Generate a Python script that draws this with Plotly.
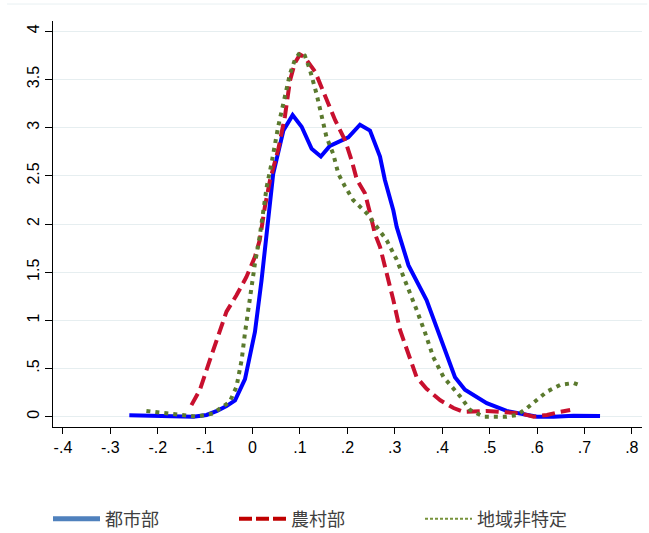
import plotly.graph_objects as go

# 都市部 (urban)
urban_x = [-0.26, -0.20, -0.15, -0.125, -0.097, -0.075, -0.055, -0.037, -0.016, 0.005, 0.019, 0.030,
           0.040, 0.0435, 0.065, 0.0845, 0.1035, 0.1246, 0.144, 0.163, 0.202, 0.2266, 0.2477,
           0.2688, 0.279, 0.297, 0.304, 0.329, 0.367, 0.396, 0.427, 0.448, 0.494, 0.536, 0.579,
           0.600, 0.635, 0.677, 0.733]
urban_y = [0.015, 0.012, 0.0, 0.0, 0.018, 0.06, 0.11, 0.17, 0.39, 0.88, 1.42, 1.94,
           2.40, 2.52, 2.97, 3.13, 3.01, 2.78, 2.70, 2.81, 2.90, 3.03, 2.97,
           2.70, 2.46, 2.14, 1.97, 1.57, 1.21, 0.83, 0.41, 0.28, 0.14, 0.06, 0.018,
           0.0, 0.0, 0.01, 0.007]

# 農村部 (rural)
rural_x = [-0.129, -0.111, -0.090, -0.069, -0.055, -0.034, -0.013, 0.005, 0.015, 0.026, 0.037,
           0.054, 0.068, 0.079, 0.089, 0.100, 0.110, 0.132, 0.153, 0.174, 0.195, 0.209, 0.220,
           0.237, 0.248, 0.258, 0.269, 0.283, 0.297, 0.311, 0.329, 0.346, 0.367, 0.396, 0.424,
           0.445, 0.494, 0.536, 0.565, 0.593, 0.621, 0.649, 0.670]
rural_y = [0.12, 0.28, 0.59, 0.90, 1.09, 1.26, 1.45, 1.66, 1.83, 2.18, 2.46,
           2.77, 3.11, 3.49, 3.67, 3.76, 3.73, 3.58, 3.32, 3.08, 2.87, 2.66, 2.46,
           2.32, 2.11, 1.90, 1.76, 1.49, 1.21, 0.90, 0.66, 0.41, 0.29, 0.17, 0.09,
           0.05, 0.06, 0.05, 0.035, 0.0, 0.018, 0.05, 0.07]

# 地域非特定 (region unspecified)
unspec_x = [-0.224, -0.168, -0.132, -0.118, -0.083, -0.048, -0.034, -0.023, -0.016, -0.009, -0.002,
            0.005, 0.015, 0.022, 0.030, 0.040, 0.054, 0.068, 0.079, 0.089, 0.100, 0.110, 0.121,
            0.135, 0.146, 0.156, 0.170, 0.181, 0.195, 0.212, 0.241, 0.262, 0.283, 0.304, 0.325,
            0.346, 0.364, 0.381, 0.403, 0.417, 0.438, 0.459, 0.487, 0.536, 0.558, 0.579, 0.600,
            0.621, 0.649, 0.677, 0.688]
unspec_y = [0.06, 0.028, 0.0, 0.0, 0.035, 0.156, 0.31, 0.59, 0.87, 1.11, 1.42,
            1.59, 1.87, 2.11, 2.39, 2.63, 3.01, 3.32, 3.56, 3.70, 3.78, 3.75, 3.60,
            3.35, 3.11, 2.90, 2.73, 2.52, 2.39, 2.25, 2.11, 1.97, 1.83, 1.63, 1.38,
            1.11, 0.87, 0.62, 0.41, 0.33, 0.21, 0.07, 0.0, 0.0, 0.018, 0.09, 0.17,
            0.26, 0.33, 0.35, 0.33]

series_names = ["都市部", "農村部", "地域非特定"]
x_ticks = [-0.4, -0.3, -0.2, -0.1, 0, 0.1, 0.2, 0.3, 0.4, 0.5, 0.6, 0.7, 0.8]
x_tick_labels = ["-.4", "-.3", "-.2", "-.1", "0", ".1", ".2", ".3", ".4", ".5", ".6", ".7", ".8"]
y_ticks = [0, 0.5, 1, 1.5, 2, 2.5, 3, 3.5, 4]
y_tick_labels = ["0", ".5", "1", "1.5", "2", "2.5", "3", "3.5", "4"]

fig = go.Figure()
fig.add_trace(go.Scatter(x=urban_x, y=urban_y, mode="lines", showlegend=False,
                         line=dict(color="#0000ff", width=4)))
fig.add_trace(go.Scatter(x=rural_x, y=rural_y, mode="lines", showlegend=False,
                         line=dict(color="#c8102e", width=4, dash="13px,6px")))
fig.add_trace(go.Scatter(x=unspec_x, y=unspec_y, mode="lines", showlegend=False,
                         line=dict(color="#5b7a2e", width=4, dash="4px,5px")))

# legend entries (legend uses its own styling)
fig.add_trace(go.Scatter(x=[None], y=[None], mode="lines", name=series_names[0],
                         line=dict(color="#4f81bd", width=5)))
fig.add_trace(go.Scatter(x=[None], y=[None], mode="lines", name=series_names[1],
                         line=dict(color="#c00000", width=4, dash="13px,4px")))
fig.add_trace(go.Scatter(x=[None], y=[None], mode="lines", name=series_names[2],
                         line=dict(color="#77933c", width=2, dash="3px,2px")))

PLOT_H = 406
fig.update_layout(
    width=649, height=533,
    margin=dict(l=53, r=7, t=21, b=106, autoexpand=False),
    paper_bgcolor="white", plot_bgcolor="white",
    font=dict(family="Arial, Liberation Sans, sans-serif", size=16, color="black"),
    xaxis=dict(range=[-0.421, 0.8215], tickvals=x_ticks, ticktext=x_tick_labels,
               showgrid=False, zeroline=False, showline=True, linecolor="black", linewidth=1,
               ticks="outside", ticklen=6, tickcolor="black", tickwidth=1,
               tickfont=dict(size=16, family="Arial, Liberation Sans, sans-serif")),
    yaxis=dict(range=[-0.107, 4.107], tickvals=y_ticks, ticktext=y_tick_labels,
               showgrid=True, gridcolor="#e6eef0", gridwidth=1, zeroline=False,
               showline=True, linecolor="black", linewidth=1,
               ticks="outside", ticklen=7, tickcolor="black", tickwidth=1, tickangle=-90,
               tickfont=dict(size=16, family="Arial, Liberation Sans, sans-serif")),
    legend=dict(orientation="h", x=-5 / 589, xanchor="left", y=-92 / PLOT_H, yanchor="middle",
                entrywidth=124, entrywidthmode="pixels", itemwidth=47,
                font=dict(family="Noto Sans CJK JP", size=18, color="#404040"),
                bgcolor="rgba(0,0,0,0)", tracegroupgap=0),
    shapes=[dict(type="line", xref="paper", yref="paper",
                 x0=-0.078, x1=1.009, y0=1 + 17 / PLOT_H, y1=1 + 17 / PLOT_H,
                 line=dict(color="#e8f0f2", width=1))],
)

fig.write_html("out.html")
